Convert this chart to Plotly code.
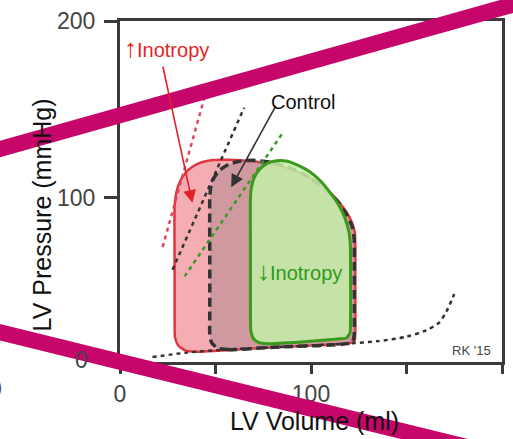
import plotly.graph_objects as go

# ---------------- data (LV volume in ml, LV pressure in mmHg) ----------------
edpvr_vol = [17, 35, 52, 75, 100, 121, 135, 150, 160, 167, 171, 175]
edpvr_prs = [10, 12.5, 14, 15.3, 16.5, 17.8, 19, 21.5, 25, 29.4, 36, 45.6]

red_vol = [80, 40, 34, 30.5, 28.8, 28.6, 28.6, 28.6, 29.5, 31.5, 35, 40, 46, 55, 66, 78, 90, 100, 108,
           114, 118.5, 121.5, 123, 123.2, 123.2, 123.2, 122.8, 120, 80]
red_prs = [15.5, 13, 13.8, 16.5, 21, 30, 60, 95, 103, 109.5, 115, 119, 121, 121.5, 121, 119.5, 116, 111, 105,
           98.5, 92, 86, 80, 72, 50, 25, 19, 17.8, 15.5]

ctrl_vol = [85, 57, 51, 48, 47, 47, 47, 47, 47.5, 49, 52, 57, 63, 70, 80, 90, 100, 108, 114, 118.5,
            121.5, 122.6, 122.7, 122.7, 122.6, 121.5, 85]
ctrl_prs = [15.8, 14.2, 15, 18, 23, 35, 70, 100, 106, 111, 115.5, 119, 120.8, 121.2, 120, 116.5, 111, 104.5,
            98, 91, 84, 77, 60, 35, 22, 18.2, 15.8]

green_vol = [95, 77, 72.5, 69.8, 68.5, 68.3, 68.3, 68.3, 68.8, 70.3, 73, 77, 82, 87, 93, 99, 105, 110,
             114.5, 117.8, 119.8, 120.6, 120.7, 120.7, 120.4, 118.5, 114, 95]
green_prs = [18.5, 17.5, 18.3, 20.5, 25, 35, 70, 100, 106, 111.5, 116, 119.5, 121, 120.8, 118.5, 115, 109.5,
             103, 96, 88.5, 81, 73, 55, 30, 23.5, 20.8, 20.2, 18.5]

espvr_red_vol = [22.3, 44.2]
espvr_red_prs = [72.2, 156.7]
espvr_ctrl_vol = [27.5, 65]
espvr_ctrl_prs = [59.4, 151]
espvr_green_vol = [33.8, 84.7]
espvr_green_prs = [55.6, 136]

x_tickvals = [0, 50, 100, 150, 200]
x_ticktext = ["0", "", "100", "", "200"]
y_tickvals = [100, 200]
y_ticktext = ["100", "200"]

FONT = "Liberation Sans, Arial, sans-serif"
AX = "#3a3a3a"
SM = 0.5

fig = go.Figure()

# increased inotropy loop
fig.add_trace(go.Scatter(x=red_vol, y=red_prs, mode="lines", fill="toself",
                         fillcolor="#F3ADB3", line=dict(color="#E2363E", width=2.5, shape="spline", smoothing=SM),
                         hoverinfo="skip"))
# control loop
fig.add_trace(go.Scatter(x=ctrl_vol, y=ctrl_prs, mode="lines", fill="toself",
                         fillcolor="rgba(150,120,125,0.38)",
                         line=dict(color="#333333", width=3.5, dash="9px,5px", shape="spline", smoothing=SM),
                         hoverinfo="skip"))
# EDPVR
fig.add_trace(go.Scatter(x=edpvr_vol, y=edpvr_prs, mode="lines",
                         line=dict(color="#333333", width=2.5, dash="4px,4px", shape="spline", smoothing=0.8),
                         hoverinfo="skip"))
# ESPVR lines
fig.add_trace(go.Scatter(x=espvr_red_vol, y=espvr_red_prs, mode="lines",
                         line=dict(color="#DB4A5E", width=2.5, dash="4px,4px"), hoverinfo="skip"))
fig.add_trace(go.Scatter(x=espvr_ctrl_vol, y=espvr_ctrl_prs, mode="lines",
                         line=dict(color="#333333", width=2.5, dash="4px,4px"), hoverinfo="skip"))
fig.add_trace(go.Scatter(x=espvr_green_vol, y=espvr_green_prs, mode="lines",
                         line=dict(color="#3E9A28", width=2.5, dash="4px,4px"), hoverinfo="skip"))
# decreased inotropy loop
fig.add_trace(go.Scatter(x=green_vol, y=green_prs, mode="lines", fill="toself",
                         fillcolor="rgba(196,238,170,0.86)",
                         line=dict(color="#3A9A1C", width=3, shape="spline", smoothing=SM),
                         hoverinfo="skip"))

annotations = [
    # arrows
    dict(x=37.9, y=97.2, ax=22.3, ay=175, xref="x", yref="y", axref="x", ayref="y", text="",
         showarrow=True, arrowhead=2, arrowsize=1.6, arrowwidth=1.6, arrowcolor="#E51F26"),
    dict(x=58.2, y=106, ax=82, ay=152.8, xref="x", yref="y", axref="x", ayref="y", text="",
         showarrow=True, arrowhead=2, arrowsize=1.6, arrowwidth=1.6, arrowcolor="#333333"),
    # labels
    dict(x=24.5, y=185, xref="x", yref="y", text="<span style='font-size:26px'>↑</span>Inotropy",
         showarrow=False, font=dict(family=FONT, size=20, color="#E51F26")),
    dict(x=96, y=154.4, xref="x", yref="y", text="Control", showarrow=False,
         font=dict(family=FONT, size=20, color="#111111")),
    dict(x=94, y=58.5, xref="x", yref="y", text="<span style='font-size:26px'>↓</span>Inotropy",
         showarrow=False, font=dict(family=FONT, size=20, color="#2E9A1A")),
    dict(x=183.9, y=13.9, xref="x", yref="y", text="RK '15", showarrow=False,
         font=dict(family=FONT, size=13, color="#444444")),
    # extra tick-like labels
    dict(x=-0.1013, y=0.006, xref="paper", yref="paper", text="0", showarrow=False,
         xanchor="center", yanchor="middle", font=dict(family=FONT, size=23, color="#444444")),
    dict(x=-0.304, y=-0.078, xref="paper", yref="paper", text="0", showarrow=False,
         xanchor="right", yanchor="middle", font=dict(family=FONT, size=23, color="#444444")),
    # axis titles
    dict(x=0.509, y=-0.173, xref="paper", yref="paper", text="LV Volume (ml)", showarrow=False,
         xanchor="center", yanchor="middle", font=dict(family=FONT, size=25, color="#111111")),
    dict(x=-0.205, y=0.432, xref="paper", yref="paper", text="LV Pressure (mmHg)", showarrow=False,
         textangle=-90, xanchor="center", yanchor="middle", font=dict(family=FONT, size=25, color="#111111")),
]

shapes = [
    dict(type="line", xref="paper", yref="paper", x0=-0.3636, y0=0.609, x1=1.0727, y1=1.0617,
         line=dict(color="#C6066A", width=16), layer="above"),
    dict(type="line", xref="paper", yref="paper", x0=-0.3636, y0=0.1009, x1=1.0727, y1=-0.2945,
         line=dict(color="#C6066A", width=16), layer="above"),
]

fig.update_layout(
    width=513, height=439,
    margin=dict(l=120, r=8, t=15, b=77),
    plot_bgcolor="white", paper_bgcolor="white",
    showlegend=False,
    annotations=annotations,
    shapes=shapes,
    xaxis=dict(range=[0, 200], showgrid=False, zeroline=False, showline=True, linecolor=AX, linewidth=3,
               mirror=True, ticks="outside", ticklen=9, tickwidth=3, tickcolor=AX,
               tickvals=x_tickvals, ticktext=x_ticktext,
               tickfont=dict(family=FONT, size=23, color="#444444")),
    yaxis=dict(range=[7.2, 200], showgrid=False, zeroline=False, showline=True, linecolor=AX, linewidth=3,
               mirror=True, ticks="outside", ticklen=13, tickwidth=3, tickcolor=AX,
               tickvals=y_tickvals, ticktext=y_ticktext, ticklabelstandoff=4,
               tickfont=dict(family=FONT, size=23, color="#444444")),
)

fig.write_html("out.html", config={"displayModeBar": False})
